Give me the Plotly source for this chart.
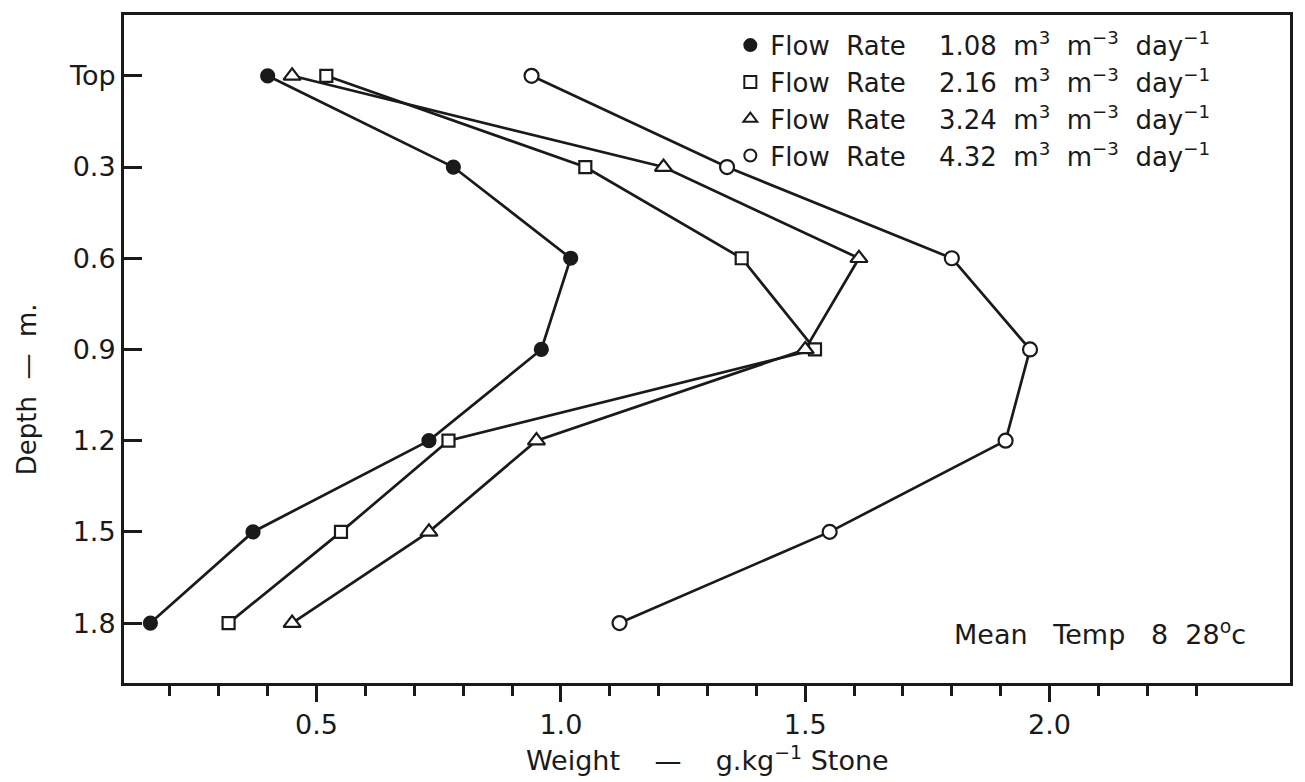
import plotly.graph_objects as go

# ---- data ----
depth = [0.0, 0.3, 0.6, 0.9, 1.2, 1.5, 1.8]
depth_labels = ["Top", "0.3", "0.6", "0.9", "1.2", "1.5", "1.8"]

w_108 = [0.40, 0.78, 1.02, 0.96, 0.73, 0.37, 0.16]
w_216 = [0.52, 1.05, 1.37, 1.52, 0.77, 0.55, 0.32]
w_324 = [0.45, 1.21, 1.61, 1.50, 0.95, 0.73, 0.45]
w_432 = [0.94, 1.34, 1.80, 1.96, 1.91, 1.55, 1.12]

rates = ["1.08", "2.16", "3.24", "4.32"]

x_major = [0.5, 1.0, 1.5, 2.0]
x_major_labels = ["0.5", "1.0", "1.5", "2.0"]
x_minor = [0.2, 0.3, 0.4, 0.6, 0.7, 0.8, 0.9, 1.1, 1.2, 1.3, 1.4,
           1.6, 1.7, 1.8, 1.9, 2.1, 2.2, 2.3]

INK = "#1a1a1a"
FONT = "DejaVu Sans"
NB = "\u00a0"

series = [
    (w_108, "circle", INK, 13),
    (w_216, "square", "white", 12),
    (w_324, "triangle-up", "white", 15),
    (w_432, "circle", "white", 14),
]

fig = go.Figure()

for vals, sym, fill, size in series:
    fig.add_trace(go.Scatter(
        x=vals, y=depth, mode="lines",
        line=dict(color=INK, width=2.7),
        showlegend=False, hoverinfo="skip",
    ))

for (vals, sym, fill, size), rate in zip(series, rates):
    label = (f"Flow{NB}{NB}Rate{NB}{NB}{NB}{NB}{rate}{NB}{NB}m<sup>3</sup>{NB}{NB}m<sup>−3</sup>"
             f"{NB}{NB}day<sup>−1</sup>")
    fig.add_trace(go.Scatter(
        x=vals, y=depth, mode="markers", name=label,
        marker=dict(symbol=sym, size=size, color=fill,
                    line=dict(color=INK, width=2.2)),
    ))

fig.update_layout(
    width=1305, height=782,
    margin=dict(l=124, r=12, t=14, b=99),
    paper_bgcolor="white", plot_bgcolor="white",
    font=dict(family=FONT, size=26, color=INK),
    showlegend=True,
    legend=dict(
        x=0.52, y=0.99, xanchor="left", yanchor="top",
        bgcolor="rgba(0,0,0,0)", borderwidth=0,
        font=dict(family=FONT, size=26, color=INK),
        itemsizing="constant",
    ),
    xaxis=dict(
        range=[0.106, 2.492],
        tickmode="array", tickvals=x_major, ticktext=x_major_labels,
        ticks="outside", ticklen=16, tickwidth=3, tickcolor=INK,
        minor=dict(tickmode="array", tickvals=x_minor, ticks="outside",
                   ticklen=10, tickwidth=3, tickcolor=INK),
        showline=True, linecolor=INK, linewidth=3, mirror=True,
        showgrid=False, zeroline=False,
        tickfont=dict(family=FONT, size=27, color=INK),
    ),
    yaxis=dict(
        range=[1.997, -0.2],
        tickmode="array", tickvals=depth, ticktext=depth_labels,
        ticks="inside", ticklen=18, tickwidth=3, tickcolor=INK,
        showline=True, linecolor=INK, linewidth=3, mirror=True,
        showgrid=False, zeroline=False,
        tickfont=dict(family=FONT, size=27, color=INK),
    ),
    annotations=[
        dict(text=f"Weight{NB}{NB}{NB}{NB}—{NB}{NB}{NB}{NB}g.kg<sup>−1</sup>{NB}Stone",
             xref="paper", yref="paper", x=0.5, y=-0.113,
             xanchor="center", yanchor="middle", showarrow=False,
             font=dict(family=FONT, size=27, color=INK)),
        dict(text=f"Depth{NB}{NB}—{NB}{NB}m.",
             xref="paper", yref="paper", x=-0.083, y=0.44,
             xanchor="center", yanchor="middle", showarrow=False,
             textangle=-90,
             font=dict(family=FONT, size=26, color=INK)),
        dict(text=f"Mean{NB}{NB}{NB}Temp{NB}{NB}{NB}8{NB}{NB}28<sup>o</sup>c",
             xref="paper", yref="paper", x=0.964, y=0.075,
             xanchor="right", yanchor="middle", showarrow=False,
             font=dict(family=FONT, size=27, color=INK)),
    ],
)

fig.write_html("out.html")
